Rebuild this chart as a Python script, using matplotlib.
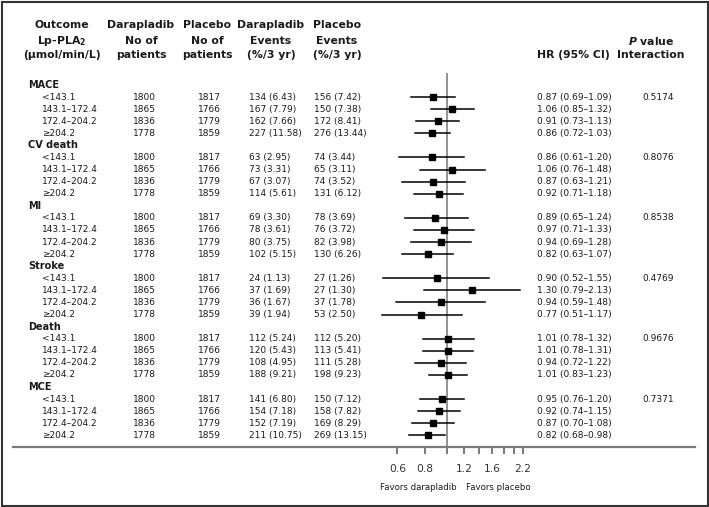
import numpy as np
import matplotlib.pyplot as plt
from matplotlib.transforms import blended_transform_factory
from matplotlib.patches import Rectangle

W, H = 709, 507

groups = ["MACE", "CV death", "MI", "Stroke", "Death", "MCE"]
strata = ["<143.1", "143.1\u2013172.4", "172.4\u2013204.2", "\u2265204.2"]
n_dara = [1800, 1865, 1836, 1778]
n_plac = [1817, 1766, 1779, 1859]

ev_dara = [[134, 167, 162, 227], [63, 73, 67, 114], [69, 78, 80, 102],
           [24, 37, 36, 39], [112, 120, 108, 188], [141, 154, 152, 211]]
pct_dara = [[6.43, 7.79, 7.66, 11.58], [2.95, 3.31, 3.07, 5.61], [3.30, 3.61, 3.75, 5.15],
            [1.13, 1.69, 1.67, 1.94], [5.24, 5.43, 4.95, 9.21], [6.80, 7.18, 7.19, 10.75]]
ev_plac = [[156, 150, 172, 276], [74, 65, 74, 131], [78, 76, 82, 130],
           [27, 27, 37, 53], [112, 113, 111, 198], [150, 158, 169, 269]]
pct_plac = [[7.42, 7.38, 8.41, 13.44], [3.44, 3.11, 3.52, 6.12], [3.69, 3.72, 3.98, 6.26],
            [1.26, 1.30, 1.78, 2.50], [5.20, 5.41, 5.28, 9.23], [7.12, 7.82, 8.29, 13.15]]

hr = [[0.87, 1.06, 0.91, 0.86], [0.86, 1.06, 0.87, 0.92], [0.89, 0.97, 0.94, 0.82],
      [0.90, 1.30, 0.94, 0.77], [1.01, 1.01, 0.94, 1.01], [0.95, 0.92, 0.87, 0.82]]
lo = [[0.69, 0.85, 0.73, 0.72], [0.61, 0.76, 0.63, 0.71], [0.65, 0.71, 0.69, 0.63],
      [0.52, 0.79, 0.59, 0.51], [0.78, 0.78, 0.72, 0.83], [0.76, 0.74, 0.70, 0.68]]
hi = [[1.09, 1.32, 1.13, 1.03], [1.20, 1.48, 1.21, 1.18], [1.24, 1.33, 1.28, 1.07],
      [1.55, 2.13, 1.48, 1.17], [1.32, 1.31, 1.22, 1.23], [1.20, 1.15, 1.08, 0.98]]
p_int = ["0.5174", "0.8076", "0.8538", "0.4769", "0.9676", "0.7371"]

xticks = [0.6, 0.8, 1.0, 1.2, 1.4, 1.6, 1.8, 2.0, 2.2]
xticklabels = ["0.6", "0.8", "", "1.2", "", "1.6", "", "", "2.2"]

fig = plt.figure(figsize=(W / 100, H / 100), dpi=100)
ax = fig.add_axes([13 / W, 1 - 447 / H, (695 - 13) / W, (447 - 73) / H])

# pixel layout of the rows: first group header at y=85, 12.08 px per row
row_h = 12.08
ax.set_ylim((447 - 85) / row_h, (73 - 85) / row_h)
ax.set_xscale("log")
ax.set_xlim(np.exp((13 - 446.7) / 96.7), np.exp((695 - 446.7) / 96.7))
ax.minorticks_off()
ax.set_xticks(xticks)
ax.set_xticklabels(xticklabels)
ax.minorticks_off()
ax.set_yticks([])
for s in ["top", "left", "right"]:
    ax.spines[s].set_visible(False)
ax.spines["bottom"].set_color("#7a7a7a")
ax.spines["bottom"].set_linewidth(1.6)
ax.tick_params(axis="x", length=5, width=1.1, color="#555555", pad=7,
               labelsize=7.7, labelcolor="#333333")
ax.axvline(1, color="#808080", lw=1.2, zorder=1)

trans = blended_transform_factory(fig.transFigure, ax.transData)
tc = "#1a1a1a"
fs = 6.5

for g, name in enumerate(groups):
    r0 = g * 5
    ax.text(28 / W, r0, name, transform=trans, fontsize=7, fontweight="bold",
            va="center", ha="left", color=tc)
    ax.text(651 / W + 7 / W, r0 + 1, p_int[g], transform=trans, fontsize=fs,
            va="center", ha="center", color=tc)
    for k in range(4):
        r = r0 + 1 + k
        ax.text(41.7 / W, r, strata[k], transform=trans, fontsize=fs, va="center", ha="left", color=tc)
        ax.text(144 / W, r, str(n_dara[k]), transform=trans, fontsize=fs, va="center", ha="center", color=tc)
        ax.text(209 / W, r, str(n_plac[k]), transform=trans, fontsize=fs, va="center", ha="center", color=tc)
        ax.text(249.3 / W, r, "%d (%.2f)" % (ev_dara[g][k], pct_dara[g][k]), transform=trans,
                fontsize=fs, va="center", ha="left", color=tc)
        ax.text(314 / W, r, "%d (%.2f)" % (ev_plac[g][k], pct_plac[g][k]), transform=trans,
                fontsize=fs, va="center", ha="left", color=tc)
        ax.text(536.7 / W, r, "%.2f (%.2f\u2013%.2f)" % (hr[g][k], lo[g][k], hi[g][k]),
                transform=trans, fontsize=fs, va="center", ha="left", color=tc)
        ax.plot([lo[g][k], hi[g][k]], [r, r], color="black", lw=1.1, zorder=2)
        ax.plot(hr[g][k], r, marker="s", ms=4.6, color="black", zorder=3)

# column headers
hfs = 7.8
heads = [
    (62, ["Outcome", r"Lp-PLA$_\mathbf{2}$", "(\u00b5mol/min/L)"]),
    (141, ["Darapladib", "No of", "patients"]),
    (207, ["Placebo", "No of", "patients"]),
    (271, ["Darapladib", "Events", "(%/3 yr)"]),
    (337, ["Placebo", "Events", "(%/3 yr)"]),
    (573, ["", "", "HR (95% CI)"]),
    (651, ["", r"$\bfit{P}$ value", "Interaction"]),
]
for x, lines in heads:
    for y, t in zip([25, 40.7, 55], lines):
        if t:
            fig.text(x / W, 1 - y / H, t, fontsize=hfs, fontweight="bold",
                     ha="center", va="center", color=tc)

fig.text(457 / W, 1 - 488 / H, "Favors darapladib", fontsize=6.2, ha="right", va="center", color=tc)
fig.text(466 / W, 1 - 488 / H, "Favors placebo", fontsize=6.2, ha="left", va="center", color=tc)

fig.patches.append(Rectangle((1.5 / W, 1.5 / H), 1 - 3 / W, 1 - 3 / H, transform=fig.transFigure,
                             fill=False, ec="#333333", lw=1.5))

fig.savefig("out.png", dpi=100)
